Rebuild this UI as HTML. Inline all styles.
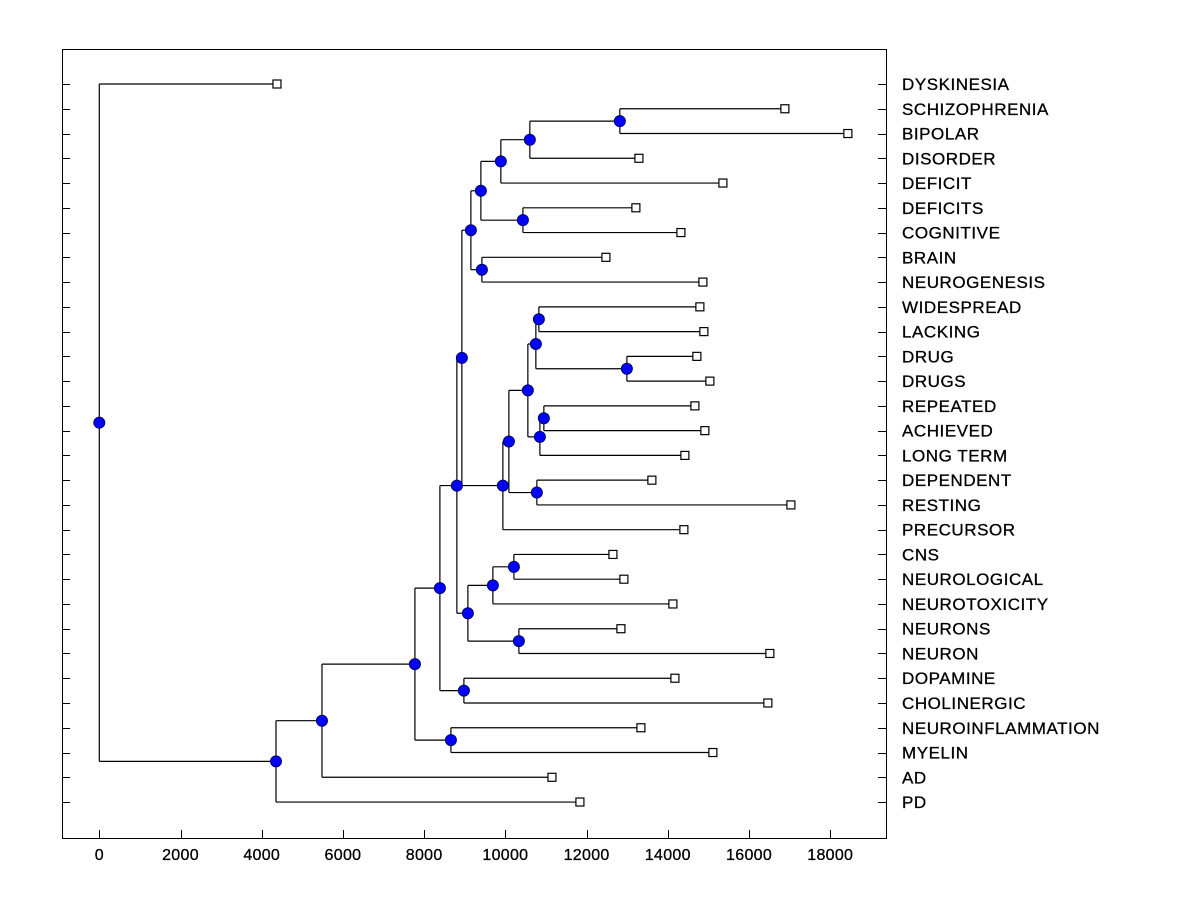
<!DOCTYPE html>
<html><head><meta charset="utf-8"><style>
html,body{margin:0;padding:0;background:#fff;}
svg text{font-family:"Liberation Sans",Arial,sans-serif;}
</style></head><body>
<svg id="chart" width="1200" height="900" xmlns="http://www.w3.org/2000/svg">
<rect x="0" y="0" width="1200" height="900" fill="#fff"/>
<rect x="62.5" y="49.5" width="824" height="789" fill="none" stroke="#000" stroke-width="1"/>
<g id="axes"></g><g id="links"></g><g id="marks"></g><g id="labels"></g>
</svg>
<script>
const leafNames = ["DYSKINESIA","SCHIZOPHRENIA","BIPOLAR","DISORDER","DEFICIT","DEFICITS","COGNITIVE","BRAIN","NEUROGENESIS","WIDESPREAD","LACKING","DRUG","DRUGS","REPEATED","ACHIEVED","LONG TERM","DEPENDENT","RESTING","PRECURSOR","CNS","NEUROLOGICAL","NEUROTOXICITY","NEURONS","NEURON","DOPAMINE","CHOLINERGIC","NEUROINFLAMMATION","MYELIN","AD","PD"];
const leafValues = [4375,16882,18433,13288,15356,13213,14322,12475,14863,14789,14887,14715,15035,14666,14912,14420,13607,17030,14395,12648,12918,14125,12845,16512,14174,16463,13337,15109,11146,11835];
const nodeNames = ["ROOT","A","B","C","E","D","G","F","I","J","L","K","H","M","O","Q","S","T","R","P","N","U","V","X","Z","DD","Y","AA","W"];
const nodeLeft  = ["DYSKINESIA","B","C","D","NEUROINFLAMMATION","F","DOPAMINE","H","J","L","CNS","NEURONS","M","O","Q","S","T","SCHIZOPHRENIA","DEFICITS","BRAIN","U","V","X","Z","WIDESPREAD","DRUG","AA","REPEATED","DEPENDENT"];
const nodeRight = ["A","PD","AD","E","MYELIN","G","CHOLINERGIC","I","K","NEUROTOXICITY","NEUROLOGICAL","NEURON","N","P","R","DEFICIT","DISORDER","BIPOLAR","COGNITIVE","NEUROGENESIS","PRECURSOR","W","Y","DD","LACKING","DRUGS","LONG TERM","ACHIEVED","RESTING"];
const nodeHeights = [0,4351,5483,7772,8658,8387,8978,8805,9076,9692,10209,10332,8928,9150,9396,9888,10602,12818,10431,9421,9938,10086,10553,10750,10824,12991,10849,10947,10775];
const xTicks = [0,2000,4000,6000,8000,10000,12000,14000,16000,18000];

const NS="http://www.w3.org/2000/svg";
const xs = v => 99.3 + v*0.04061;
const ys = i => 84 + i*24.76;
function mk(tag,attrs,parent){const e=document.createElementNS(NS,tag);for(const k in attrs)e.setAttribute(k,attrs[k]);parent.appendChild(e);return e;}
const axes=document.getElementById('axes'),links=document.getElementById('links'),marks=document.getElementById('marks'),labels=document.getElementById('labels');

xTicks.forEach(t=>{
  const x=Math.round(xs(t))+0.5;
  const l=mk('line',{x1:x,x2:x,y1:830,y2:838,stroke:'#000'},axes);
  
  
  const tx=mk('text',{x:xs(t),y:860,'text-anchor':'middle','font-size':'16','stroke':'#000','stroke-width':'0.3','letter-spacing':'0.3'},axes);
  tx.textContent=t;
  
  
});
leafNames.forEach((n,i)=>{
  const y=Math.round(ys(i))+0.5;
  const l=mk('line',{x1:62,x2:70,y1:y,y2:y,stroke:'#000'},axes);
  
  
  const r=mk('line',{x1:878,x2:886,y1:y,y2:y,stroke:'#000'},axes);
  
  
  const tx=mk('text',{x:902,y:ys(i)+6,'font-size':'17','letter-spacing':'0.55','stroke':'#000','stroke-width':'0.3'},labels);
  tx.textContent=n;
  
  
});

const pos={};
leafNames.forEach((n,i)=>{pos[n]={x:xs(leafValues[i]),y:ys(i),leaf:true};});
function resolve(name){
  if(pos[name])return pos[name];
  const k=nodeNames.indexOf(name);
  const a=resolve(nodeLeft[k]),b=resolve(nodeRight[k]);
  pos[name]={x:xs(nodeHeights[k]),y:(a.y+b.y)/2,leaf:false,a:a,b:b};
  return pos[name];
}
nodeNames.forEach(n=>resolve(n));
nodeNames.forEach(n=>{
  const p=pos[n];
  const v=mk('line',{x1:p.x,x2:p.x,y1:p.a.y,y2:p.b.y,stroke:'#000','stroke-width':1.2},links);
  
  
  [p.a,p.b].forEach(c=>{
    const h=mk('line',{x1:p.x,x2:c.leaf?c.x-4:c.x,y1:c.y,y2:c.y,stroke:'#000','stroke-width':1.2},links);
    
    
  });
});
nodeNames.forEach(n=>{
  const p=pos[n];
  const c=mk('circle',{cx:p.x,cy:p.y,r:5.5,fill:'#0000ff',stroke:'#000066','stroke-width':1},marks);
  
  
});
leafNames.forEach(n=>{
  const p=pos[n];
  const s=mk('rect',{x:p.x-4,y:p.y-4,width:8,height:8,fill:'#fff',stroke:'#000','stroke-width':1.2},marks);
  
  
});
</script>
</body></html>
